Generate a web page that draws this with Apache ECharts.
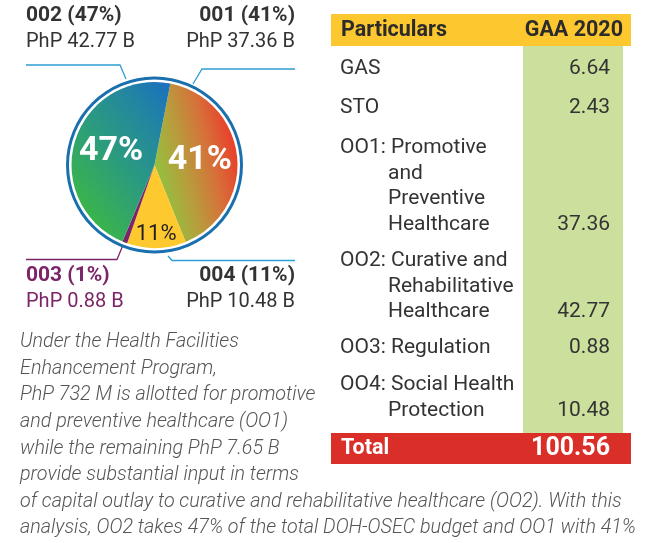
<!DOCTYPE html>
<html><head><meta charset="utf-8">
<script src="https://cdn.jsdelivr.net/npm/echarts@6/dist/echarts.min.js"></script>
<style>html,body{margin:0;padding:0;background:#fff}#c{width:645px;height:543px}</style>
</head><body><div id="c"></div>
<script>
// ---- data ----
const pieCodes = ['001', '004', '003', '002'];          // clockwise from top
const piePercents = [41, 11, 1, 47];
const pieValues = [37.36, 10.48, 0.88, 42.77];
const pieAmounts = ['PhP 37.36 B', 'PhP 10.48 B', 'PhP 0.88 B', 'PhP 42.77 B'];
const tableHeader = ['Particulars', 'GAA 2020'];
const tableLines = [
  ['GAS'], ['STO'],
  ['OO1: Promotive', 'and', 'Preventive', 'Healthcare'],
  ['OO2: Curative and', 'Rehabilitative', 'Healthcare'],
  ['OO3: Regulation'],
  ['OO4: Social Health', 'Protection']
];
const tableValues = ['6.64', '2.43', '37.36', '42.77', '0.88', '10.48'];
const totalLabel = 'Total';
const totalValue = '100.56';
const noteLines = [
  'Under the Health Facilities',
  'Enhancement Program,',
  'PhP 732 M is allotted for promotive',
  'and preventive healthcare (OO1)',
  'while the remaining PhP 7.65 B',
  'provide substantial input in terms',
  'of capital outlay to curative and rehabilitative healthcare (OO2). With this',
  'analysis, OO2 takes 47% of the total DOH-OSEC budget and OO1 with 41%'
];

// ---- styles / layout ----
const FONT = 'Roboto, "Noto Sans", sans-serif';
const center = [154.5, 165];
const sliceStyles = [
  {color: new echarts.graphic.LinearGradient(156, 190, 240, 169, [{offset: 0, color: '#8dc63f'}, {offset: 0.35, color: '#b5a03c'}, {offset: 0.7, color: '#d6713a'}, {offset: 1, color: '#e8412b'}], true)},
  {color: '#fdc92f'},
  {color: '#7b2468'},
  {color: new echarts.graphic.LinearGradient(55, 175, 168, 88, [{offset: 0, color: '#3ab54a'}, {offset: 0.45, color: '#2a9982'}, {offset: 0.75, color: '#2386a0'}, {offset: 1, color: '#1b72bc'}], true)}
];
const innerLabelColors = ['#ffffff', '#231f20', '#ffffff', '#ffffff'];

const pieData = pieValues.map((v, i) => ({value: v, name: pieCodes[i], itemStyle: sliceStyles[i]}));
function labelData(showIdx, fonts) {
  return pieValues.map((v, i) => ({
    value: v, name: pieCodes[i],
    itemStyle: {color: 'rgba(0,0,0,0)'},
    label: showIdx.includes(i) ? {show: true, formatter: piePercents[i] + '%', color: innerLabelColors[i], ...fonts} : {show: false}
  }));
}

const g = [];
// outer labels
const outerPos = [
  {x: 295, y: 16, align: 'right', fill: '#333333'},
  {x: 295, y: 276, align: 'right', fill: '#333333'},
  {x: 26, y: 276, align: 'left', fill: '#7b2468'},
  {x: 26, y: 16, align: 'left', fill: '#333333'}
];
pieCodes.forEach((c, i) => {
  const p = outerPos[i];
  g.push({type: 'text', style: {text: c + ' (' + piePercents[i] + '%)', x: p.x, y: p.y, fill: p.fill, font: 'bold 21px ' + FONT, textAlign: p.align, textVerticalAlign: 'middle'}});
  g.push({type: 'text', style: {text: pieAmounts[i], x: p.x, y: p.y + 26, fill: p.fill, font: '20px ' + FONT, textAlign: p.align, textVerticalAlign: 'middle'}});
});
const leaderLines = [
  {pts: [[193, 84], [202, 69], [295, 69]], c: '#2c9fd4'},
  {pts: [[168, 256], [172, 260.5], [295, 260.5]], c: '#2c9fd4'},
  {pts: [[123, 245], [117, 259.5], [26, 259.5]], c: '#7b2468'},
  {pts: [[126, 79], [120, 65], [26, 65]], c: '#2c9fd4'}
];
leaderLines.forEach(l => g.push({type: 'polyline', shape: {points: l.pts}, style: {stroke: l.c, lineWidth: 1.3, fill: null}}));

// table
const tx0 = 331, tx1 = 631, valX = 610;
g.push({type: 'rect', shape: {x: tx0, y: 14, width: tx1 - tx0, height: 32}, style: {fill: '#fdc82f'}});
g.push({type: 'rect', shape: {x: 523, y: 46, width: 100, height: 387}, style: {fill: '#cbe09c'}});
g.push({type: 'rect', shape: {x: tx0, y: 433, width: tx1 - tx0, height: 31}, style: {fill: '#d92f28'}});
g.push({type: 'text', style: {text: tableHeader[0], x: 341, y: 31, fill: '#2b2b2b', font: 'bold 21.5px ' + FONT, textVerticalAlign: 'middle'}});
g.push({type: 'text', style: {text: tableHeader[1], x: 623, y: 31, fill: '#2b2b2b', font: 'bold 21.5px ' + FONT, textAlign: 'right', textVerticalAlign: 'middle'}});
const rowY = [69, 108, 148, 261, 348, 385];
const lineH = 25.6;
tableLines.forEach((lines, r) => {
  lines.forEach((t, k) => {
    g.push({type: 'text', style: {text: t, x: k === 0 ? 340 : 388, y: rowY[r] + k * lineH, fill: '#333333', font: '21px ' + FONT, textVerticalAlign: 'middle'}});
  });
  g.push({type: 'text', style: {text: tableValues[r], x: valX, y: rowY[r] + (lines.length - 1) * lineH, fill: '#333333', font: '21px ' + FONT, textAlign: 'right', textVerticalAlign: 'middle'}});
});
g.push({type: 'text', style: {text: totalLabel, x: 341, y: 449, fill: '#ffffff', font: 'bold 21.5px ' + FONT, textVerticalAlign: 'middle'}});
g.push({type: 'text', style: {text: totalValue, x: valX, y: 449, fill: '#ffffff', font: 'bold 25px ' + FONT, textAlign: 'right', textVerticalAlign: 'middle'}});

// note (condensed italic: horizontally scaled to the reference line length)
const noteFont = 'italic 300 20.5px ' + FONT;
const mctx = document.createElement('canvas').getContext('2d');
mctx.font = noteFont;
const noteScale = 616 / mctx.measureText(noteLines[7]).width;
noteLines.forEach((t, i) => {
  g.push({type: 'text', x: 20, y: 342 + i * 26.6, scaleX: noteScale,
    style: {text: t, x: 0, y: 0, fill: '#555555', font: noteFont, textVerticalAlign: 'middle'}});
});

const chart = echarts.init(document.getElementById('c'), null, {renderer: 'canvas'});
chart.setOption({
  animation: false,
  series: [
    {type: 'pie', center: center, radius: [85.5, 88.5], silent: true, label: {show: false}, labelLine: {show: false},
     data: [{value: 1, itemStyle: {color: '#1a6fae'}}]},
    {type: 'pie', center: center, radius: [0, 83], startAngle: 79, clockwise: true, silent: true,
     label: {show: false}, labelLine: {show: false}, data: pieData},
    {type: 'pie', center: center, radius: [2, 83], startAngle: 79, silent: true, labelLine: {show: false},
     label: {position: 'inner'}, data: labelData([0, 3], {fontSize: 34, fontWeight: 'bold', fontFamily: FONT})},
    {type: 'pie', center: center, radius: [50, 83], startAngle: 79, silent: true, labelLine: {show: false},
     label: {position: 'inner'}, data: labelData([1], {fontSize: 22, fontWeight: 'normal', fontFamily: FONT})}
  ],
  graphic: {elements: g}
});
</script></body></html>
